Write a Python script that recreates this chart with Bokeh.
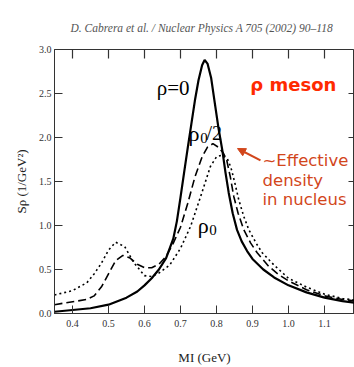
from bokeh.plotting import figure
from bokeh.models import (Label, Arrow, NormalHead, FixedTicker, Range1d, Title,
                          NumeralTickFormatter)
from bokeh.embed import file_html
from bokeh.resources import INLINE

# ---- data ----
x_rho_zero = [0.35, 0.40, 0.45, 0.50, 0.55, 0.58, 0.60, 0.62, 0.64, 0.66, 0.68, 0.69, 0.70, 0.71,
              0.72, 0.73, 0.74, 0.75, 0.76, 0.767, 0.775, 0.785, 0.795, 0.805, 0.816, 0.825, 0.834,
              0.845, 0.857, 0.87, 0.885, 0.90, 0.93, 0.96, 1.00, 1.05, 1.10, 1.15, 1.19]
y_rho_zero = [0.02, 0.04, 0.06, 0.10, 0.18, 0.25, 0.32, 0.40, 0.50, 0.63, 0.85, 1.05, 1.32, 1.60,
              1.88, 2.15, 2.42, 2.65, 2.82, 2.88, 2.84, 2.68, 2.40, 2.12, 1.86, 1.60, 1.37,
              1.14, 0.95, 0.82, 0.71, 0.62, 0.50, 0.41, 0.32, 0.24, 0.18, 0.14, 0.12]

x_rho_half = [0.35, 0.38, 0.41, 0.44, 0.46, 0.48, 0.50, 0.52, 0.54, 0.56, 0.58, 0.60, 0.62, 0.64,
              0.66, 0.68, 0.70, 0.72, 0.74, 0.76, 0.775, 0.79, 0.805, 0.818, 0.828, 0.838, 0.848,
              0.86, 0.876, 0.895, 0.913, 0.944, 0.97, 1.00, 1.05, 1.10, 1.15, 1.19]
y_rho_half = [0.10, 0.12, 0.14, 0.16, 0.20, 0.30, 0.45, 0.60, 0.66, 0.63, 0.56, 0.52, 0.52, 0.56,
              0.65, 0.80, 0.98, 1.25, 1.55, 1.78, 1.89, 1.93, 1.89, 1.83, 1.75, 1.56, 1.33,
              1.14, 0.95, 0.80, 0.69, 0.54, 0.45, 0.37, 0.27, 0.20, 0.16, 0.14]

x_rho_0 = [0.35, 0.40, 0.44, 0.46, 0.48, 0.50, 0.52, 0.545, 0.57, 0.60, 0.62, 0.64, 0.67, 0.70,
           0.728, 0.756, 0.783, 0.80, 0.815, 0.83, 0.84, 0.85, 0.862, 0.876, 0.89, 0.91, 0.927,
           0.96, 1.00, 1.05, 1.10, 1.15, 1.19]
y_rho_0 = [0.21, 0.26, 0.35, 0.45, 0.57, 0.72, 0.81, 0.76, 0.58, 0.43, 0.42, 0.46, 0.55, 0.74,
           0.99, 1.33, 1.67, 1.78, 1.80, 1.76, 1.66, 1.50, 1.29, 1.10, 0.95, 0.80, 0.69,
           0.55, 0.40, 0.30, 0.22, 0.17, 0.15]

x_ticks = [0.4, 0.5, 0.6, 0.7, 0.8, 0.9, 1.0, 1.1, 1.2]
y_ticks = [0.0, 0.5, 1.0, 1.5, 2.0, 2.5, 3.0]

SERIF = "Liberation Serif"
SANS = "DejaVu Sans"
AX = "#333333"

X0, X1, Y0, Y1 = 0.35, 0.35 + 300 / 360, 0.0, 3.0
FRAME_W, FRAME_H = 300, 264
p = figure(width=354, height=367, output_backend="svg", toolbar_location=None,
           x_range=Range1d(X0, X1), y_range=Range1d(Y0, Y1),
           min_border_left=54, min_border_right=0, min_border_top=49, min_border_bottom=54)
p.grid.visible = False
p.outline_line_color = AX
p.outline_line_width = 1

t = Title(text="D. Cabrera et al. / Nuclear Physics A 705 (2002) 90\u2013118", align="left",
          offset=16, text_font=SERIF, text_font_style="italic", text_font_size="11.5px",
          text_color="#555555", standoff=32)
p.add_layout(t, "above")

p.xaxis.ticker = FixedTicker(ticks=x_ticks)
p.yaxis.ticker = FixedTicker(ticks=y_ticks)
for ax in [p.xaxis[0], p.yaxis[0]]:
    ax.axis_line_color = AX
    ax.major_tick_line_color = AX
    ax.major_tick_in = 8
    ax.major_tick_out = 0
    ax.minor_tick_line_color = None
    ax.major_label_text_font = SERIF
    ax.major_label_text_font_size = "10px"
    ax.major_label_text_color = "#333333"
    ax.axis_label_text_font = SERIF
    ax.axis_label_text_font_style = "normal"
    ax.axis_label_text_font_size = "13px"
    ax.axis_label_text_color = "#222222"

p.xaxis.formatter = NumeralTickFormatter(format="0.0")
p.yaxis.formatter = NumeralTickFormatter(format="0.0")
p.xaxis.axis_label = "MI (GeV)"
p.yaxis.axis_label = "S\u03c1 (1/GeV\u00b2)"
p.xaxis.major_label_standoff = 6
p.xaxis.axis_label_standoff = 20
p.yaxis.major_label_standoff = 3
p.yaxis.axis_label_standoff = 7

# inward ticks on the top and right frame edges
top_len = 9 * (Y1 - Y0) / FRAME_H
right_len = 6 * (X1 - X0) / FRAME_W
top_x = [v for v in x_ticks if v < X1]
p.segment(x0=top_x, y0=[Y1] * len(top_x), x1=top_x, y1=[Y1 - top_len] * len(top_x),
          line_color=AX, line_width=1.2)
p.segment(x0=[X1 - 0.0005] * len(y_ticks), y0=y_ticks, x1=[X1 - right_len] * len(y_ticks),
          y1=y_ticks, line_color=AX, line_width=1.2)

# ---- curves ----
p.line(x_rho_zero, y_rho_zero, line_color="black", line_width=2.2)
p.line(x_rho_half, y_rho_half, line_color="black", line_width=1.6, line_dash="8 4")
p.line(x_rho_0, y_rho_0, line_color="black", line_width=1.6, line_dash="2 3")

# ---- annotations ----
def lab(x, y, text, size, font=SERIF, color="black", style="normal"):
    p.add_layout(Label(x=x, y=y, text=text, text_font=font, text_font_size=size,
                       text_color=color, text_font_style=style, text_baseline="alphabetic",
                       text_align="left"))

lab(0.634, 2.56, "\u03c1=0", "21px")
lab(0.722, 2.05, "\u03c1", "22px")
lab(0.755, 1.995, "0", "15px")
lab(0.772, 2.05, "/2", "20px")
lab(0.748, 1.0, "\u03c1", "22px")
lab(0.780, 0.945, "0", "15px")

lab(0.894, 2.6, "\u03c1 meson", "18px", font=SANS, color="#ff2a00", style="bold")
ORANGE = "#d2461b"
lab(0.9278, 1.74, "~Effective", "16.5px", font=SANS, color=ORANGE)
lab(0.9278, 1.51, "density", "16.5px", font=SANS, color=ORANGE)
lab(0.9278, 1.295, "in nucleus", "16.5px", font=SANS, color=ORANGE)

p.add_layout(Arrow(end=NormalHead(size=8, fill_color=ORANGE, line_color=ORANGE),
                   x_start=0.9222, y_start=1.739, x_end=0.8583, y_end=1.875,
                   line_color=ORANGE, line_width=2))

open("out.html", "w").write(file_html(p, INLINE))
